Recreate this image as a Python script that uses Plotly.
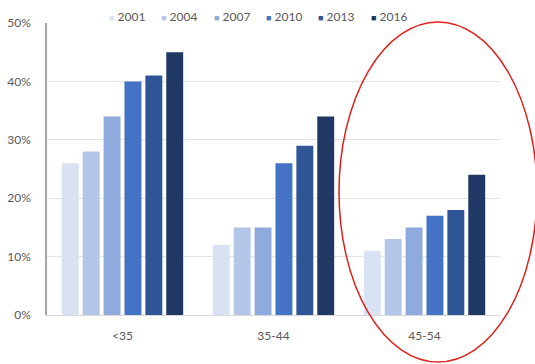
import plotly.graph_objects as go

# Age groups and survey years
age_groups = ["<35", "35-44", "45-54"]
years = ["2001", "2004", "2007", "2010", "2013", "2016"]

# Share (%) per survey year, one list per year, ordered like age_groups
share_2001 = [26, 12, 11]
share_2004 = [28, 15, 13]
share_2007 = [34, 15, 15]
share_2010 = [40, 26, 17]
share_2013 = [41, 29, 18]
share_2016 = [45, 34, 24]
series = [share_2001, share_2004, share_2007, share_2010, share_2013, share_2016]

colors = ["#d9e2f3", "#b4c6e7", "#8faadc", "#4472c4", "#2f5597", "#203864"]

tick_vals = [0, 10, 20, 30, 40, 50]
tick_text = ["0%", "10%", "20%", "30%", "40%", "50%"]

fig = go.Figure()
for year, vals, col in zip(years, series, colors):
    fig.add_trace(go.Bar(name=year, x=age_groups, y=vals, marker_color=col,
                         marker_line_width=0))

font_grey = "#595959"
left, right, top, bottom = 47, 35, 23, 49
plot_w = 535 - left - right
plot_h = 364 - top - bottom

fig.update_layout(
    width=535, height=364,
    margin=dict(l=left, r=right, t=top, b=bottom, autoexpand=False),
    paper_bgcolor="white", plot_bgcolor="white",
    barmode="group", bargap=0.17, bargroupgap=0.19,
    font=dict(family="Lato, Open Sans, sans-serif", size=12, color=font_grey),
    showlegend=False,
    xaxis=dict(showgrid=False, showline=True, linecolor="#d9d9d9", linewidth=1,
               ticks="", ticklabelstandoff=10,
               tickfont=dict(size=12, color=font_grey)),
    yaxis=dict(range=[0, 50], tickvals=tick_vals, ticktext=tick_text,
               showgrid=True, gridcolor="#e3e3e3", gridwidth=1,
               showline=True, linecolor="#a6a6a6", linewidth=1.5,
               zeroline=False, ticks="", ticklabelstandoff=12,
               tickfont=dict(size=12, color=font_grey)),
)

# Compact horizontal legend row above the plot: small coloured square + year
legend_x0, legend_step, legend_y = 107, 52.3, 16
for i, (year, col) in enumerate(zip(years, colors)):
    fig.add_annotation(
        xref="paper", yref="paper",
        x=(legend_x0 + i * legend_step - left) / plot_w,
        y=(364 - bottom - legend_y) / plot_h,
        xanchor="left", yanchor="middle", showarrow=False,
        text=f"<span style='color:{col};font-size:9px'>■</span> {year}",
        font=dict(size=12, color=font_grey),
    )

# Red ellipse highlighting the 45-54 group
fig.add_shape(type="circle", xref="paper", yref="paper",
              x0=(339 - left) / plot_w, x1=(537 - left) / plot_w,
              y0=(364 - bottom - 362) / plot_h, y1=(364 - bottom - 22) / plot_h,
              line=dict(color="#e0201b", width=1.5))

fig.write_html("out.html")
